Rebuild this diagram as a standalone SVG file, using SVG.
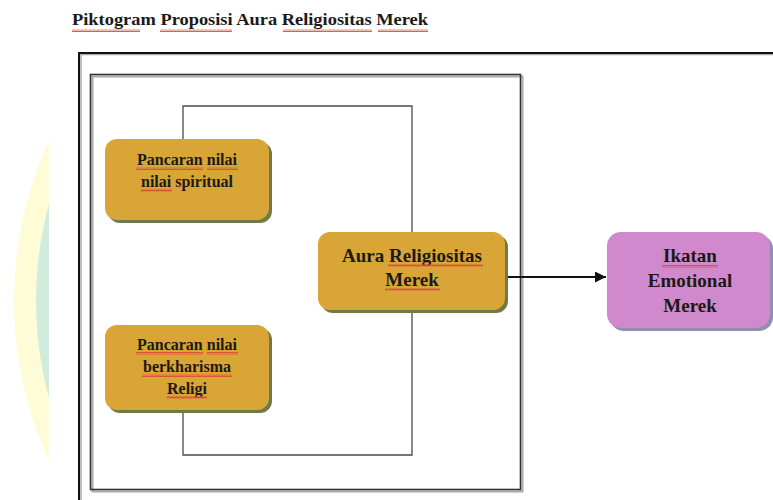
<svg xmlns="http://www.w3.org/2000/svg" width="773" height="500" viewBox="0 0 773 500">
  <style>
    .t { font-family: "Liberation Serif", "Times New Roman", serif; font-weight: bold; fill: #1c1a14; text-anchor: middle; }
    .gold { fill: #D8A536; }
    .goldsh { fill: #707A48; }
    .pink { fill: #CF89CC; }
    .pinksh { fill: #8E8FB2; }
    .conn { fill: none; stroke: #4a4a4a; stroke-width: 1.3; }
    .squig { fill: url(#wavy); }
  </style>
  <defs>
    <pattern id="wavy" patternUnits="userSpaceOnUse" width="4" height="3">
      <path d="M0 2.5 L1 0.5 L2 2.5 L3 0.5 L4 2.5" fill="none" stroke="#e04a3c" stroke-width="0.9"/>
    </pattern>
    <marker id="arrow" viewBox="0 0 10 10" refX="10" refY="5" markerWidth="5" markerHeight="5" orient="auto" markerUnits="strokeWidth">
      <path d="M0 0 L10 5 L0 10 Z" fill="#111"/>
    </marker>
    <clipPath id="wmclip">
      <rect x="0" y="0" width="49" height="500"/>
    </clipPath>
  </defs>

  <rect width="773" height="500" fill="#ffffff"/>

  <!-- faint watermark crescents at the left edge -->
  <g id="watermark" clip-path="url(#wmclip)">
    <circle cx="397" cy="301" r="383" fill="#FEFCD7"/>
    <circle cx="404" cy="301" r="368" fill="#CFECDD"/>
  </g>

  <!-- title -->
  <text id="title" x="72" y="25" font-family="'Liberation Serif', 'Times New Roman', serif" font-weight="bold" font-size="17" fill="#1a1a1a" textLength="356" lengthAdjust="spacingAndGlyphs">Piktogram Proposisi Aura Religiositas Merek</text>
  <g id="title-squiggles">
    <rect class="squig" x="72" y="29" width="68" height="3"/>
    <rect class="squig" x="160" y="29" width="72" height="3"/>
    <rect class="squig" x="283" y="29" width="89" height="3"/>
    <rect class="squig" x="378" y="29" width="50" height="3"/>
  </g>

  <!-- outer frame (runs past the right and bottom edges) -->
  <g id="outer-frame" fill="none">
    <path d="M81 510 V54.5 H780" stroke="#aaaaaa" stroke-width="1.5"/>
    <path d="M79 510 V53 H780" stroke="#111111" stroke-width="2"/>
  </g>

  <!-- inner frame with offset shadow -->
  <g id="inner-frame" fill="none">
    <rect x="92.5" y="76.5" width="430" height="415" stroke="#aaaaaa" stroke-width="2"/>
    <rect x="90.5" y="74.5" width="430" height="415" stroke="#333333" stroke-width="1.6"/>
  </g>

  <!-- connectors -->
  <g id="connectors">
    <path class="conn" d="M183 139 V106 H412 V232"/>
    <path class="conn" d="M183 410 V455 H412 V310"/>
    <line x1="505" y1="277" x2="606" y2="277" stroke="#111" stroke-width="2.2" marker-end="url(#arrow)"/>
  </g>

  <!-- node: Pancaran nilai nilai spiritual -->
  <g id="node-spiritual">
    <rect class="goldsh" x="108" y="142" width="164" height="81" rx="12"/>
    <rect class="gold" x="105" y="139" width="164" height="81" rx="12"/>
    <text class="t" x="187" y="165" font-size="16">Pancaran nilai</text>
    <text class="t" x="187" y="187" font-size="16">nilai spiritual</text>
    <rect class="squig" x="136" y="167" width="67" height="3"/>
    <rect class="squig" x="207" y="167" width="31" height="3"/>
    <rect class="squig" x="141" y="189" width="31" height="3"/>
  </g>

  <!-- node: Pancaran nilai berkharisma Religi -->
  <g id="node-karisma">
    <rect class="goldsh" x="108" y="328" width="164" height="85" rx="12"/>
    <rect class="gold" x="105" y="325" width="164" height="85" rx="12"/>
    <text class="t" x="187" y="350" font-size="16">Pancaran nilai</text>
    <text class="t" x="187" y="372" font-size="16">berkharisma</text>
    <text class="t" x="187" y="394" font-size="16">Religi</text>
    <rect class="squig" x="136" y="352" width="67" height="3"/>
    <rect class="squig" x="207" y="352" width="31" height="3"/>
    <rect class="squig" x="142" y="374" width="90" height="3"/>
    <rect class="squig" x="167" y="396" width="40" height="3"/>
  </g>

  <!-- node: Aura Religiositas Merek -->
  <g id="node-aura">
    <rect class="goldsh" x="321" y="235" width="187" height="78" rx="12"/>
    <rect class="gold" x="318" y="232" width="187" height="78" rx="12"/>
    <text class="t" x="412" y="262" font-size="19">Aura Religiositas</text>
    <text class="t" x="412" y="286" font-size="19">Merek</text>
    <rect class="squig" x="388" y="264" width="95" height="3"/>
    <rect class="squig" x="385" y="288" width="55" height="3"/>
  </g>

  <!-- node: Ikatan Emotional Merek -->
  <g id="node-ikatan">
    <rect class="pinksh" x="610" y="235" width="163" height="96" rx="14"/>
    <rect class="pink" x="607" y="232" width="163" height="96" rx="14"/>
    <text class="t" x="690" y="262" font-size="19">Ikatan</text>
    <text class="t" x="690" y="287" font-size="19">Emotional</text>
    <text class="t" x="690" y="312" font-size="19">Merek</text>
    <rect class="squig" x="662" y="265" width="56" height="3"/>
  </g>
</svg>
